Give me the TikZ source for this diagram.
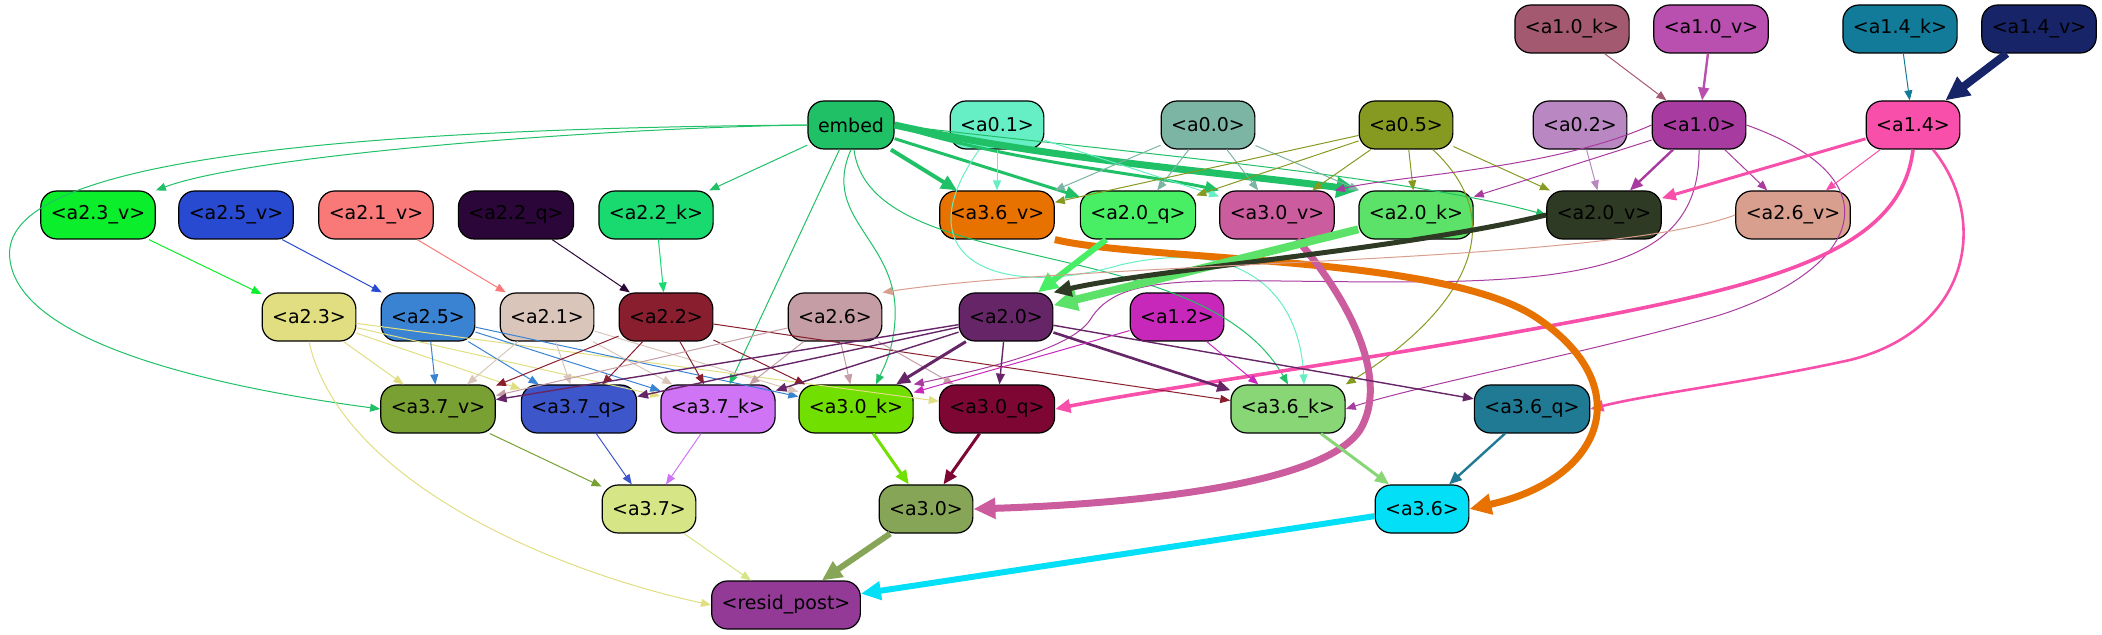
\documentclass[tikz,border=0pt]{standalone}
\usepackage{fontspec}
\setmainfont{DejaVu Sans}
\usetikzlibrary{arrows.meta}
\definecolor{ca10k}{HTML}{A35A70}
\definecolor{ca10v}{HTML}{B94FAF}
\definecolor{ca14k}{HTML}{137B9A}
\definecolor{ca14v}{HTML}{172568}
\definecolor{cemb}{HTML}{20C067}
\definecolor{ca01}{HTML}{66EEC5}
\definecolor{ca00}{HTML}{7DB5A5}
\definecolor{ca05}{HTML}{869A22}
\definecolor{ca02}{HTML}{B987C2}
\definecolor{ca10}{HTML}{A83B9F}
\definecolor{ca14}{HTML}{F74FAA}
\definecolor{ca23v}{HTML}{0AEE2C}
\definecolor{ca25v}{HTML}{284AD0}
\definecolor{ca21v}{HTML}{F97878}
\definecolor{ca22q}{HTML}{2B0638}
\definecolor{ca22k}{HTML}{18DA6E}
\definecolor{ca36v}{HTML}{E87200}
\definecolor{ca20q}{HTML}{48EE63}
\definecolor{ca30v}{HTML}{CB5D9E}
\definecolor{ca20k}{HTML}{5CE268}
\definecolor{ca20v}{HTML}{2E3A24}
\definecolor{ca26v}{HTML}{D89E8E}
\definecolor{ca23}{HTML}{E0DE81}
\definecolor{ca25}{HTML}{3A83D3}
\definecolor{ca21}{HTML}{D9C5BA}
\definecolor{ca22}{HTML}{881E2E}
\definecolor{ca26}{HTML}{C59DA4}
\definecolor{ca20}{HTML}{652566}
\definecolor{ca12}{HTML}{C728BA}
\definecolor{ca37v}{HTML}{78A032}
\definecolor{ca37q}{HTML}{3D56C9}
\definecolor{ca37k}{HTML}{CF74F5}
\definecolor{ca30k}{HTML}{71DF00}
\definecolor{ca30q}{HTML}{7E0633}
\definecolor{ca36k}{HTML}{88D676}
\definecolor{ca36q}{HTML}{217A93}
\definecolor{ca37}{HTML}{D6E585}
\definecolor{ca30}{HTML}{87A556}
\definecolor{ca36}{HTML}{03DFF6}
\definecolor{cresid}{HTML}{933A97}
\begin{document}
\begin{tikzpicture}[
			x=0.5pt, y=-0.5pt,
			state node/.style={draw=black, line width=0.6pt, rounded corners=8pt, minimum height=24pt,
				inner xsep=5pt, inner ysep=0pt, font=\fontsize{9.5}{11}\selectfont},
			flow line/.style 2 args={draw=#1, line width=#2, -{Triangle[length=4pt 2, width=3pt 2]}}
			]
			\useasboundingbox (0,0) rectangle (2102,635);
			\foreach \nm/\px/\py/\txt in {
				a10k/1572/29/{<a1.0\_k>}, a10v/1711/29/{<a1.0\_v>}, a14k/1900/29/{<a1.4\_k>}, a14v/2039/29/{<a1.4\_v>},
				emb/851/125/{embed}, a01/997/125/{<a0.1>}, a00/1208/125/{<a0.0>}, a05/1406/125/{<a0.5>},
				a02/1580/125/{<a0.2>}, a10/1699/125/{<a1.0>}, a14/1913/125/{<a1.4>},
				a23v/98/215/{<a2.3\_v>}, a25v/236/215/{<a2.5\_v>}, a21v/376/215/{<a2.1\_v>}, a22q/516/215/{<a2.2\_q>},
				a22k/656/215/{<a2.2\_k>}, a36v/997/215/{<a3.6\_v>}, a20q/1138/215/{<a2.0\_q>}, a30v/1277/215/{<a3.0\_v>},
				a20k/1416/215/{<a2.0\_k>}, a20v/1604/215/{<a2.0\_v>}, a26v/1793/215/{<a2.6\_v>},
				a23/309/317/{<a2.3>}, a25/428/317/{<a2.5>}, a21/547/317/{<a2.1>}, a22/666/317/{<a2.2>},
				a26/835/317/{<a2.6>}, a20/1006/317/{<a2.0>}, a12/1177/317/{<a1.2>},
				a37v/438/409/{<a3.7\_v>}, a37q/579/409/{<a3.7\_q>}, a37k/718/409/{<a3.7\_k>}, a30k/856/409/{<a3.0\_k>},
				a30q/997/409/{<a3.0\_q>}, a36k/1288/409/{<a3.6\_k>}, a36q/1532/409/{<a3.6\_q>},
				a37/649/509/{<a3.7>}, a30/926/509/{<a3.0>}, a36/1422/509/{<a3.6>},
				resid/786/605/{<resid\_post>}}
				\node[state node, fill=c\nm] (\nm) at (\px,\py) {\txt};
			
			\draw[flow line={ca10k}{0.5pt}] (a10k) -- (a10);
			\draw[flow line={ca10v}{1.2pt}] (a10v) -- (a10);
			\draw[flow line={ca14k}{0.5pt}] (a14k) -- (a14);
			\draw[flow line={ca14v}{4pt}] (a14v) -- (a14);
			
			\draw[flow line={cemb}{0.5pt}] (emb.west) .. controls (600,128) and (250,155) .. (a23v.north east);
			\draw[flow line={cemb}{0.5pt}] (emb.west) .. controls (150,130) and (0,190) .. (10,260) .. controls (20,340) and (200,385) .. (a37v.west);
			\draw[flow line={cemb}{0.5pt}] (emb) -- (a22k);
			\draw[flow line={cemb}{2pt}] (emb) -- (a36v);
			\draw[flow line={cemb}{1.5pt}] (emb) -- (a20q);
			\draw[flow line={cemb}{1.5pt}] (emb.east) .. controls (1000,160) and (1150,175) .. (a30v.north west);
			\draw[flow line={cemb}{3.5pt}] (emb.east) .. controls (1050,160) and (1250,175) .. (a20k.north west);
			\draw[flow line={cemb}{0.5pt}] (emb.east) .. controls (1100,150) and (1400,175) .. (a20v.west);
			\draw[flow line={cemb}{0.5pt}] (emb) -- (a37k);
			\draw[flow line={cemb}{0.5pt}] (emb.south) .. controls (820,220) and (900,240) .. (895,320) .. controls (893,350) and (885,365) .. ([xshift=10pt]a30k.north);
			\draw[flow line={cemb}{0.5pt}] (emb) .. controls (870,280) and (1200,230) .. (a36k.north);
			
			\foreach \t in {a36v,a30v}
				\draw[flow line={ca01}{0.5pt}] (a01) -- (\t);
			\draw[flow line={ca01}{0.5pt}] (a01) .. controls (900,260) and (1000,300) .. (1120,265) .. controls (1250,235) and (1300,300) .. ([xshift=8pt]a36k.north);
			\foreach \t in {a36v,a20q,a30v,a20k}
				\draw[flow line={ca00}{0.5pt}] (a00) -- (\t);
			\foreach \t in {a36v,a20q,a30v,a20k,a20v}
				\draw[flow line={ca05}{0.5pt}] (a05) -- (\t);
			\draw[flow line={ca05}{0.5pt}] (a05) .. controls (1520,230) and (1450,320) .. (a36k.north east);
			\draw[flow line={ca02}{0.5pt}] (a02) -- (a20v);
			
			\draw[flow line={ca10}{1.2pt}] (a10) -- (a20v);
			\draw[flow line={ca10}{0.5pt}] (a10) -- (a26v);
			\draw[flow line={ca10}{0.5pt}] (a10) -- (a20k);
			\draw[flow line={ca10}{0.5pt}] (a10.west) .. controls (1550,170) and (1400,175) .. (a30v.north east);
			\draw[flow line={ca10}{0.5pt}] (a10.south) .. controls (1700,260) and (1600,282) .. (1400,282) .. controls (1200,282) and (1120,270) .. (1090,320) .. controls (1070,350) and (980,370) .. (a30k.north east);
			\draw[flow line={ca10}{0.5pt}] (a10.east) .. controls (1900,180) and (1860,270) .. (1720,315) .. controls (1600,350) and (1420,385) .. (a36k.east);
			
			\draw[flow line={ca14}{1.5pt}] (a14) -- (a20v);
			\draw[flow line={ca14}{0.5pt}] (a14) -- (a26v);
			\draw[flow line={ca14}{1.8pt}] (a14.south) .. controls (1900,260) and (1750,290) .. (1500,335) .. controls (1300,370) and (1150,390) .. (a30q.east);
			\draw[flow line={ca14}{1.3pt}] ([xshift=10pt]a14.south) .. controls (1990,220) and (1970,330) .. (1850,360) .. controls (1750,382) and (1650,394) .. (a36q.east);
			
			\draw[flow line={ca23v}{0.5pt}] (a23v) -- (a23);
			\draw[flow line={ca25v}{0.5pt}] (a25v) -- (a25);
			\draw[flow line={ca21v}{0.5pt}] (a21v) -- (a21);
			\draw[flow line={ca22q}{0.5pt}] (a22q) -- (a22);
			\draw[flow line={ca22k}{0.5pt}] (a22k) -- (a22);
			\draw[flow line={ca36v}{3.5pt}] (a36v.south east) .. controls (1150,262) and (1450,255) .. (1540,320) .. controls (1640,390) and (1600,480) .. (a36.east);
			\draw[flow line={ca20q}{3pt}] (a20q) -- (a20);
			\draw[flow line={ca30v}{3.5pt}] ([xshift=10pt]a30v.south) .. controls (1350,300) and (1390,380) .. (1360,430) .. controls (1320,490) and (1100,505) .. (a30.east);
			\draw[flow line={ca20k}{4pt}] (a20k) -- (a20);
			\draw[flow line={ca20v}{2.5pt}] (a20v.west) .. controls (1400,250) and (1150,270) .. (a20.north east);
			\draw[flow line={ca26v}{0.5pt}] (a26v.west) .. controls (1600,265) and (1100,260) .. (a26.north east);
			
			\foreach \t in {a37v,a37q,a37k,a30q}
				\draw[flow line={ca23}{0.5pt}] (a23) -- (\t);
			\draw[flow line={ca23}{0.5pt}] (a23.south) .. controls (340,480) and (550,570) .. (resid.west);
			\foreach \t in {a37v,a37q,a37k,a30k}
				\draw[flow line={ca25}{0.5pt}] (a25) -- (\t);
			\foreach \t in {a37v,a37q,a37k,a30k}
				\draw[flow line={ca21}{0.5pt}] (a21) -- (\t);
			\foreach \t in {a37v,a37q,a37k,a30k,a36k}
				\draw[flow line={ca22}{0.5pt}] (a22) -- (\t);
			\foreach \t in {a37v,a37k,a30k,a30q}
				\draw[flow line={ca26}{0.5pt}] (a26) -- (\t);
			\foreach \t/\w in {a37v/0.7pt,a37q/0.7pt,a37k/0.7pt,a30k/1.5pt,a30q/0.7pt,a36k/1.3pt,a36q/0.7pt}
				\draw[flow line={ca20}{\w}] (a20) -- (\t);
			\foreach \t in {a30k,a36k}
				\draw[flow line={ca12}{0.5pt}] (a12) -- (\t);
			
			\draw[flow line={ca37v}{0.5pt}] (a37v) -- (a37);
			\draw[flow line={ca37q}{0.5pt}] (a37q) -- (a37);
			\draw[flow line={ca37k}{0.5pt}] (a37k) -- (a37);
			\draw[flow line={ca30k}{1.5pt}] (a30k) -- (a30);
			\draw[flow line={ca30q}{1.5pt}] (a30q) -- (a30);
			\draw[flow line={ca36k}{1.5pt}] (a36k) -- (a36);
			\draw[flow line={ca36q}{1.2pt}] (a36q) -- (a36);
			\draw[flow line={ca37}{0.5pt}] (a37) -- (resid);
			\draw[flow line={ca30}{3pt}] (a30) -- (resid);
			\draw[flow line={ca36}{3pt}] (a36) -- (resid);
		\end{tikzpicture}
\end{document}
